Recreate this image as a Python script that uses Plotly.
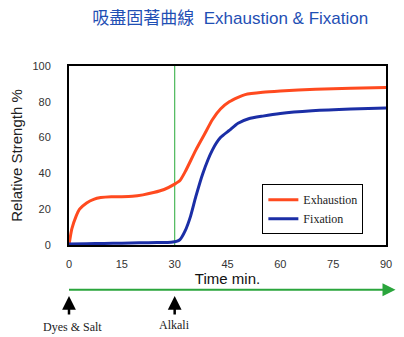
import plotly.graph_objects as go

# Exhaustion (orange) and Fixation (blue) curves
t_exh = [0, 0.8, 2, 3, 5, 7, 9, 12, 15, 18, 21, 24, 27, 30, 31.5, 33, 36, 38.5, 40.7, 43, 45.5, 48, 50, 55, 60, 70, 80, 90]
exhaustion = [0, 9, 16, 20, 23.5, 25.5, 26.5, 27, 27, 27.2, 28, 29.3, 31, 34, 36, 41, 53, 62, 70, 76, 80, 82.5, 84, 85.3, 86, 87, 87.6, 88]

t_fix = [0, 5, 10, 15, 20, 25, 29, 30.5, 31.5, 33, 34.5, 36, 38, 40.7, 43, 45.5, 48, 51, 55, 60, 69, 80, 90]
fixation = [0.5, 0.7, 0.9, 1.0, 1.2, 1.4, 1.6, 2, 3, 8, 16, 27, 40, 53, 60, 64, 68, 70.5, 72, 73.5, 75, 76, 76.5]

x_ticks = [0, 15, 30, 45, 60, 75, 90]
y_ticks = [0, 20, 40, 60, 80, 100]
alkali_time = 30

orange = "#ff4a1f"
blue = "#1b2ea6"
green = "#2aa53c"

fig = go.Figure()
fig.add_trace(go.Scatter(x=t_exh, y=exhaustion, mode="lines", name="Exhaustion",
                         line=dict(color=orange, width=3, shape="spline", smoothing=0.6)))
fig.add_trace(go.Scatter(x=t_fix, y=fixation, mode="lines", name="Fixation",
                         line=dict(color=blue, width=3, shape="spline", smoothing=0.6)))

# green line at alkali addition
fig.add_shape(type="line", x0=alkali_time, x1=alkali_time, y0=0, y1=100, xref="x", yref="y",
              line=dict(color="#4cb85a", width=1.2), layer="below")

# process arrow below the axis
fig.add_annotation(x=1.03, y=-0.25, xref="paper", yref="paper", ax=-328, ay=0,
                   showarrow=True, arrowhead=2, arrowsize=1.3, arrowwidth=2,
                   arrowcolor=green, text="")
for tx in [0, alkali_time]:
    fig.add_annotation(x=tx, y=-0.285, xref="x", yref="paper", ax=0, ay=20,
                       showarrow=True, arrowhead=2, arrowsize=1.1, arrowwidth=2.5,
                       arrowcolor="black", text="")
fig.add_annotation(x=1, y=-0.46, xref="x", yref="paper", yanchor="middle", text="Dyes &amp; Salt",
                   showarrow=False, font=dict(family="Liberation Serif", size=12, color="#222"))
fig.add_annotation(x=alkali_time, y=-0.445, xref="x", yref="paper", yanchor="middle", text="Alkali",
                   showarrow=False, font=dict(family="Liberation Serif", size=12, color="#222"))

fig.update_layout(
    width=404, height=337,
    margin=dict(l=69, r=16, t=66, b=92),
    paper_bgcolor="white", plot_bgcolor="white",
    title=dict(text="吸盡固著曲線  Exhaustion &amp; Fixation", x=0.57, xanchor="center",
               y=0.945, yanchor="middle",
               font=dict(family="Liberation Sans, Noto Sans CJK TC", size=17, color="#1f4fb4")),
    legend=dict(x=0.61, y=0.34, xanchor="left", yanchor="top",
                bordercolor="black", borderwidth=1, bgcolor="white",
                font=dict(family="Liberation Serif", size=12, color="#222"),
                itemwidth=30, tracegroupgap=2),
    showlegend=True,
)
fig.update_xaxes(range=[0, 90], tickvals=x_ticks, showgrid=False, zeroline=False,
                 showline=True, linecolor="black", linewidth=2, mirror=True,
                 ticklabelstandoff=8,
                 tickfont=dict(family="Liberation Sans", size=11, color="#333"),
                 title=dict(text="Time min.", standoff=4,
                            font=dict(family="Liberation Sans", size=15, color="#111")))
fig.update_yaxes(range=[0, 100], tickvals=y_ticks, showgrid=False, zeroline=False,
                 showline=True, linecolor="black", linewidth=2, mirror=True,
                 ticklabelstandoff=14,
                 tickfont=dict(family="Liberation Sans", size=11, color="#333"),
                 title=dict(text="Relative Strength %", standoff=6,
                            font=dict(family="Liberation Sans", size=15, color="#222")))

fig.write_html("out.html", config={"displayModeBar": False},
               post_script="document.body.style.margin='0';")
